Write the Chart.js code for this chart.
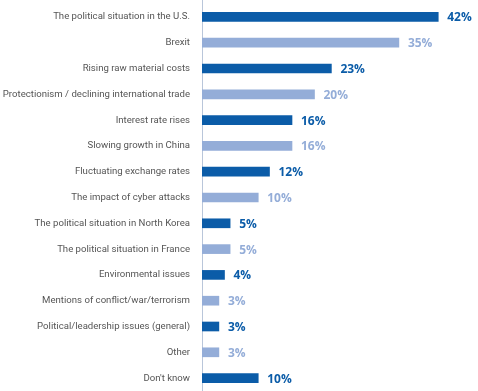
<!DOCTYPE html>
<html>
<head>
<meta charset="utf-8">
<script src="https://cdn.jsdelivr.net/npm/chart.js@4"></script>
<style>
  html, body { margin: 0; padding: 0; background: #fff; }
  #wrap { width: 478px; height: 391px; }
</style>
</head>
<body>
<div id="wrap"><canvas id="chart"></canvas></div>
<script>
// categories top to bottom
const labels = [
  'The political situation in the U.S.',
  'Brexit',
  'Rising raw material costs',
  'Protectionism / declining international trade',
  'Interest rate rises',
  'Slowing growth in China',
  'Fluctuating exchange rates',
  'The impact of cyber attacks',
  'The political situation in North Korea',
  'The political situation in France',
  'Environmental issues',
  'Mentions of conflict/war/terrorism',
  'Political/leadership issues (general)',
  'Other',
  "Don't know"
];
const values = [42, 35, 23, 20, 16, 16, 12, 10, 5, 5, 4, 3, 3, 3, 10];

const DARK  = '#0b5ca8';
const LIGHT = '#94add8';
const barColors = values.map((v, i) => (i % 2 === 0 ? DARK : LIGHT));

/* ---- baseline: full-height vertical rule at the zero line ---- */
const baseRule = {
  id: 'baseRule',
  beforeDatasetsDraw(chart) {
    const ctx = chart.ctx;
    const x = Math.round(chart.chartArea.left) + 0.5;
    ctx.save();
    ctx.strokeStyle = '#b9c6da';
    ctx.lineWidth = 1;
    ctx.beginPath();
    ctx.moveTo(x, 0);
    ctx.lineTo(x, chart.height);
    ctx.stroke();
    ctx.restore();
  }
};

/* ---- value labels after each bar ---- */
const valueLabels = {
  id: 'valueLabels',
  afterDatasetsDraw(chart) {
    const ctx = chart.ctx;
    const meta = chart.getDatasetMeta(0);
    ctx.save();
    ctx.font = 'bold 12px "Open Sans", sans-serif';
    ctx.textBaseline = 'middle';
    ctx.textAlign = 'left';
    meta.data.forEach((bar, i) => {
      ctx.fillStyle = barColors[i];
      ctx.fillText(values[i] + '%', bar.x + 9, bar.y + 1);
    });
    ctx.restore();
  }
};

new Chart(document.getElementById('chart'), {
  type: 'bar',
  data: {
    labels,
    datasets: [{ data: values, backgroundColor: barColors, barThickness: 9 }]
  },
  options: {
    indexAxis: 'y',
    responsive: true,
    maintainAspectRatio: false,
    animation: false,
    layout: { padding: { top: 4, right: 6, bottom: 0, left: 0 } },
    plugins: { legend: { display: false }, tooltip: { enabled: false } },
    scales: {
      x: {
        display: false,
        min: 0,
        max: 48
      },
      y: {
        // fixed label column; drop the extra top/bottom padding from tick labels
        afterFit: s => { s.width = 202; s.paddingTop = 0; s.paddingBottom = 0; },
        grid: { display: false, drawTicks: false },
        border: { display: false },
        ticks: {
          padding: 12,
          color: '#555',
          font: { family: 'Roboto', size: 9.6 }
        }
      }
    }
  },
  plugins: [baseRule, valueLabels]
});
</script>
</body>
</html>
